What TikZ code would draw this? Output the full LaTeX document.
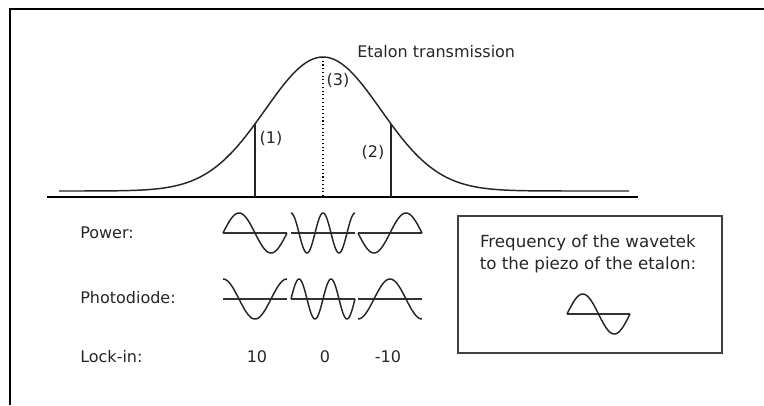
\documentclass[tikz,border=0pt]{standalone}
\usepackage{fontspec}
\setmainfont{DejaVu Sans}
\tikzset{
  curve/.style={line width=1.1pt,color=black!85,line join=round},
  waveaxis/.style={line width=1pt,color=black!80},
  lbl/.style={font=\fontsize{12}{14}\selectfont,text=black!85,inner sep=0pt},
}
\begin{document}
\begin{tikzpicture}[x=0.75pt,y=-0.75pt]
  \useasboundingbox (0,0) rectangle (764,405);
  % frame
  \draw[line width=1.6pt] (10,405)--(10,9)--(764,9);
  % etalon transmission
  \coordinate (bl) at (47,197);
  \coordinate (br) at (638,197);
  \draw[line width=2.2pt] (bl)--(br);
  \draw[curve,samples=160,domain=59:629]
    plot (\x,{191-134*exp(-0.5*((\x-323)/57.8)^2)});
  \coordinate (top) at (323,57);
  \coordinate (p1) at (255,124);
  \coordinate (p2) at (391,124);
  \draw[curve] (p1)--(p1|-bl);
  \draw[curve] (p2)--(p2|-bl);
  \draw[line width=.8pt,dotted] (top)--(top|-bl);
  \node[lbl,anchor=west] (title) at (357,52) {Etalon transmission};
  \node[lbl] (n1) at (271,138) {(1)};
  \node[lbl] (n2) at (373,152) {(2)};
  \node[lbl] (n3) at (338,80) {(3)};
  % rows
  \node[lbl,anchor=west] (power) at (80,233) {Power:};
  \node[lbl,anchor=west] (diode) at (80,298) {Photodiode:};
  \node[lbl,anchor=west] (lockin) at (80,357) {Lock-in:};
  \node[lbl] (v1) at (257,357) {10};
  \node[lbl] (v2) at (325,357) {0};
  \node[lbl] (v3) at (388,357) {-10};
  % power
  \draw[waveaxis] (223,233)--(287,233);
  \draw[curve,samples=60,domain=223:287] plot (\x,{233-20*sin(5.625*(\x-223))});
  \draw[waveaxis] (291,233)--(355,233);
  \draw[curve,samples=80,domain=291:355] plot (\x,{233-20*cos(11.25*(\x-291))});
  \draw[waveaxis] (358,233)--(422,233);
  \draw[curve,samples=60,domain=358:422] plot (\x,{233+20*sin(5.625*(\x-358))});
  % photodiode
  \draw[waveaxis] (223,299)--(287,299);
  \draw[curve,samples=60,domain=223:287] plot (\x,{299-20*cos(5.625*(\x-223))});
  \draw[waveaxis] (291,299)--(355,299);
  \draw[curve,samples=80,domain=291:355] plot (\x,{299-20*sin(11.25*(\x-291))});
  \draw[waveaxis] (358,299)--(422,299);
  \draw[curve,samples=60,domain=358:422] plot (\x,{299+20*cos(5.625*(\x-358))});
  % wavetek box
  \draw[line width=1.3pt,color=black!75] (458,216) rectangle (722,353);
  \node[lbl,font=\fontsize{12.5}{15}\selectfont,align=center] (freq) at (588,254)
    {Frequency of the wavetek\\[2pt]to the piezo of the etalon:};
  \draw[waveaxis] (567,314)--(630,314);
  \draw[curve,samples=60,domain=567:630] plot (\x,{314-20*sin(5.714*(\x-567))});
\end{tikzpicture}
\end{document}
